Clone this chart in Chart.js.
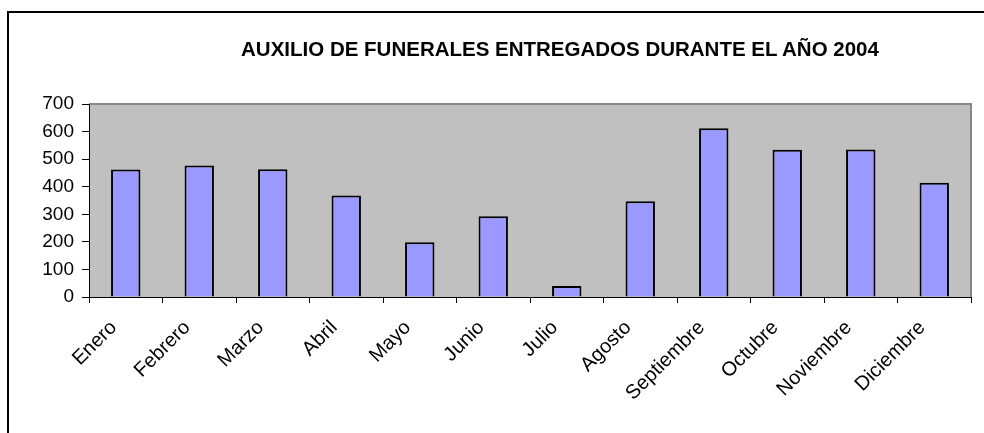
<!DOCTYPE html>
<html>
<head>
<meta charset="utf-8">
<script src="https://cdn.jsdelivr.net/npm/chart.js@4/dist/chart.umd.min.js"></script>
<style>
    html, body { margin: 0; padding: 0; background: #fff; overflow: hidden; width: 984px; height: 433px; }
    .title {
        position: absolute; left: 0; width: 1120px; top: 37px;
        text-align: center; font: bold 20.5px "Liberation Sans", Arial, sans-serif; color: #000;
    }
    .wrap { position: absolute; left: 0; top: 0; width: 984px; height: 433px; overflow: hidden; }
    canvas { position: absolute; left: 0; top: 0; }
</style>
</head>
<body>
<div class="wrap">
    <canvas id="chart" width="984" height="433"></canvas>
    <div class="title">AUXILIO DE FUNERALES ENTREGADOS DURANTE EL AÑO 2004</div>
</div>
<script>
(function () {
    "use strict";

    const months = ["Enero", "Febrero", "Marzo", "Abril", "Mayo", "Junio",
        "Julio", "Agosto", "Septiembre", "Octubre", "Noviembre", "Diciembre"];
    const auxilios = [462, 477, 463, 368, 199, 293, 40, 347, 612, 534, 535, 414];
    const yTicks = [0, 100, 200, 300, 400, 500, 600, 700];

    // Outer chart frame plus gray plot area with a gray top/right edge
    const plotBg = {
        id: "plotBg",
        beforeDraw(chart) {
            const a = chart.chartArea;
            const ctx = chart.ctx;
            ctx.save();
            ctx.strokeStyle = "#000";
            ctx.lineWidth = 2;
            ctx.beginPath();
            ctx.moveTo(8, chart.height);
            ctx.lineTo(8, 12);
            ctx.lineTo(chart.width + 5, 12);
            ctx.stroke();

            ctx.fillStyle = "#c0c0c0";
            ctx.fillRect(a.left, a.top, a.right - a.left, a.bottom - a.top);
            ctx.strokeStyle = "#888888";
            ctx.beginPath();
            ctx.moveTo(a.left, a.top);
            ctx.lineTo(a.right, a.top);
            ctx.lineTo(a.right, a.bottom);
            ctx.stroke();
            ctx.restore();
        },
    };

    const font = { family: "'Liberation Sans', Arial, sans-serif", size: 19 };
    const xFont = { family: "'Liberation Sans', Arial, sans-serif", size: 20 };

    new Chart(document.getElementById("chart"), {
        type: "bar",
        data: {
            labels: months,
            datasets: [
                {
                    data: auxilios,
                    backgroundColor: "#9999ff",
                    borderColor: "#000000",
                    borderWidth: 2,
                    categoryPercentage: 1,
                    barPercentage: 0.4,
                },
            ],
        },
        options: {
            responsive: false,
            animation: false,
            layout: {
                padding: { top: 104, right: 13, bottom: 0, left: 0 },
            },
            plugins: {
                legend: { display: false },
                tooltip: { enabled: false },
            },
            scales: {
                x: {
                    grid: {
                        offset: true,
                        drawOnChartArea: false,
                        drawTicks: true,
                        tickLength: 6,
                        color: "#000",
                    },
                    border: { display: true, color: "#000", width: 1 },
                    ticks: {
                        color: "#000",
                        font: xFont,
                        minRotation: 45,
                        maxRotation: 45,
                        autoSkip: false,
                        padding: 13,
                        labelOffset: -12,
                    },
                    afterFit(scale) {
                        scale.height = 136;
                    },
                },
                y: {
                    min: 0,
                    max: 700,
                    grid: {
                        drawOnChartArea: false,
                        drawTicks: true,
                        tickLength: 7,
                        color: "#000",
                    },
                    border: { display: true, color: "#000", width: 1 },
                    afterBuildTicks(scale) {
                        scale.ticks = yTicks.map((v) => ({ value: v }));
                    },
                    ticks: {
                        color: "#000",
                        font: font,
                        padding: 8,
                    },
                    afterFit(scale) {
                        scale.width = 89;
                    },
                },
            },
        },
        plugins: [plotBg],
    });
})();
</script>
</body>
</html>
